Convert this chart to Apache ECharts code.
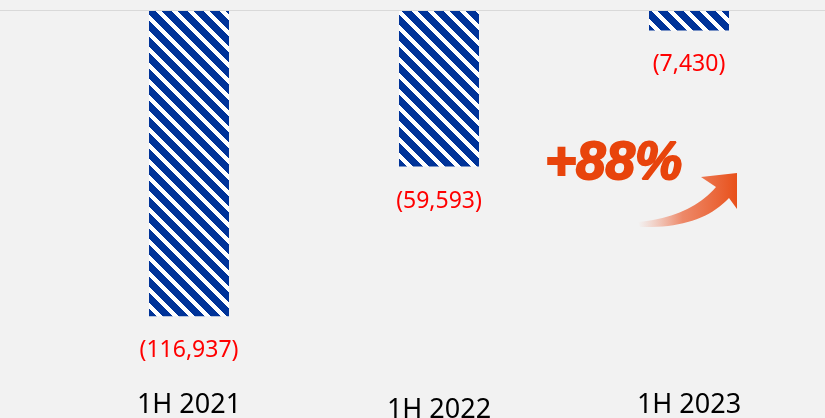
<!DOCTYPE html>
<html>
<head>
<meta charset="utf-8">
<script src="https://cdn.jsdelivr.net/npm/echarts@6/dist/echarts.min.js"></script>
<style>
  html, body { margin: 0; padding: 0; background: #f2f2f2; }
  #main { width: 825px; height: 418px; }
</style>
</head>
<body>
<div id="main"></div>
<script>
var categories = ['1H 2021', '1H 2022', '1H 2023'];
var losses = [-116937, -59593, -7430];
var growthText = '+88%';

// striped fill for the bars
function stripeTile() {
  var c = document.createElement('canvas');
  c.width = 16; c.height = 16;
  var ctx = c.getContext('2d');
  ctx.fillStyle = '#ffffff';
  ctx.fillRect(0, 0, 16, 16);
  ctx.fillStyle = '#003399';
  for (var y = 0; y < 16; y++) {
    for (var x = 0; x < 16; x++) {
      var d = ((y - x) % 16 + 16) % 16;
      if (d < 10) ctx.fillRect(x, y, 1, 1);
    }
  }
  return c;
}

// curved arrow outline (decoration only)
function quad(p0, c, p1, n) {
  var pts = [];
  for (var i = 0; i <= n; i++) {
    var t = i / n;
    pts.push([
      (1 - t) * (1 - t) * p0[0] + 2 * (1 - t) * t * c[0] + t * t * p1[0],
      (1 - t) * (1 - t) * p0[1] + 2 * (1 - t) * t * c[1] + t * t * p1[1]
    ]);
  }
  return pts;
}
var arrowPts = quad([638, 222], [690, 217], [716, 187], 20)
  .concat([[701, 177], [737, 173], [737, 209]])
  .concat(quad([729, 198], [700, 229], [640, 227], 20));

var labelFont = { fontSize: 27, fontFamily: 'Noto Sans', color: '#000' };

var chart = echarts.init(document.getElementById('main'));
chart.setOption({
  backgroundColor: '#f2f2f2',
  animation: false,
  grid: { left: 64, right: 11, top: 11, bottom: 26, outerBoundsMode: 'none', containLabel: false },
  xAxis: {
    type: 'category',
    data: categories.map(function (c, i) {
      // middle label sits a few pixels lower in the original
      return i === 1
        ? { value: c, textStyle: Object.assign({ verticalAlign: 'top', lineHeight: 10 }, labelFont) }
        : c;
    }),
    axisLine: { show: false },
    axisTick: { show: false },
    axisLabel: Object.assign({ margin: 13, verticalAlign: 'middle' }, labelFont)
  },
  yAxis: {
    type: 'value',
    min: -146000,
    max: 0,
    show: false
  },
  series: [{
    type: 'bar',
    data: losses,
    barWidth: 80,
    itemStyle: { color: { image: stripeTile(), repeat: 'repeat' } },
    label: {
      show: true,
      position: 'bottom',
      distance: 23,
      color: '#ff0000',
      fontSize: 23,
      fontFamily: 'Noto Sans',
      formatter: function (p) {
        return '(' + Math.abs(p.value).toLocaleString('en-US') + ')';
      }
    }
  }],
  graphic: [
    {
      type: 'line',
      shape: { x1: 0, y1: 10.5, x2: 825, y2: 10.5 },
      style: { stroke: '#d9d9d9', lineWidth: 1 }
    },
    {
      type: 'polygon',
      shape: { points: arrowPts },
      style: {
        fill: new echarts.graphic.LinearGradient(0, 0, 1, 0, [
          { offset: 0, color: 'rgba(240,140,110,0)' },
          { offset: 0.45, color: 'rgba(236,110,70,0.8)' },
          { offset: 1, color: '#e8501a' }
        ])
      }
    },
    {
      type: 'text',
      x: 545,
      y: 164,
      style: {
        text: growthText,
        fill: '#e8440c',
        stroke: '#e8440c',
        lineWidth: 2,
        font: 'italic bold 53px "Liberation Sans"',
        align: 'left',
        verticalAlign: 'middle',
        shadowColor: 'rgba(0,0,0,0.4)',
        shadowBlur: 3,
        shadowOffsetX: 3,
        shadowOffsetY: 3
      }
    }
  ]
});
</script>
</body>
</html>
